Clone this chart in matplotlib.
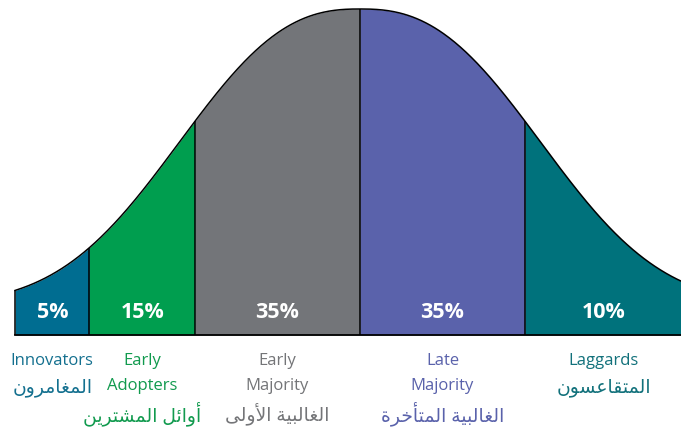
import numpy as np
import matplotlib.pyplot as plt

# adopter categories (left to right)
groups_en = ["Innovators", "Early\nAdopters", "Early\nMajority", "Late\nMajority", "Laggards"]
groups_ar = ["المغامرون", "أوائل المشترين", "الغالبية الأولى", "الغالبية المتأخرة", "المتقاعسون"]
shares = [5, 15, 35, 35, 10]
# cut points of the segments, in standard deviations from the mean
edges = [-2.09, -1.64, -1.0, 0.0, 1.0, 1.95]

fill_colors = ["#006d91", "#009e4f", "#737579", "#5a62ab", "#00727c"]
text_colors = ["#14708f", "#119a4e", "#747578", "#5a62ab", "#12717b"]

# --- tiny arabic shaper (matplotlib draws no contextual forms / rtl) ---
FORMS = {  # isolated, final, initial, medial
    'ا': ('\ufe8d', '\ufe8e', None, None),
    'أ': ('\ufe83', '\ufe84', None, None),
    'ب': ('\ufe8f', '\ufe90', '\ufe91', '\ufe92'),
    'ة': ('\ufe93', '\ufe94', None, None),
    'ت': ('\ufe95', '\ufe96', '\ufe97', '\ufe98'),
    'خ': ('\ufea5', '\ufea6', '\ufea7', '\ufea8'),
    'ر': ('\ufead', '\ufeae', None, None),
    'س': ('\ufeb1', '\ufeb2', '\ufeb3', '\ufeb4'),
    'ش': ('\ufeb5', '\ufeb6', '\ufeb7', '\ufeb8'),
    'ع': ('\ufec9', '\ufeca', '\ufecb', '\ufecc'),
    'غ': ('\ufecd', '\ufece', '\ufecf', '\ufed0'),
    'ق': ('\ufed5', '\ufed6', '\ufed7', '\ufed8'),
    'ل': ('\ufedd', '\ufede', '\ufedf', '\ufee0'),
    'م': ('\ufee1', '\ufee2', '\ufee3', '\ufee4'),
    'ن': ('\ufee5', '\ufee6', '\ufee7', '\ufee8'),
    'و': ('\ufeed', '\ufeee', None, None),
    'ي': ('\ufef1', '\ufef2', '\ufef3', '\ufef4'),
    'ى': ('\ufeef', '\ufef0', None, None),
    'ئ': ('\ufe89', '\ufe8a', '\ufe8b', '\ufe8c'),
}
LAM_ALEF = {'ا': ('\ufefb', '\ufefc'), 'أ': ('\ufef7', '\ufef8')}


def shape_ar(s):
    toks = []
    i = 0
    while i < len(s):
        if s[i] == 'ل' and i + 1 < len(s) and s[i + 1] in LAM_ALEF:
            toks.append(('LA', s[i + 1]))
            i += 2
        else:
            toks.append(s[i])
            i += 1

    def is_letter(t):
        return isinstance(t, tuple) or t in FORMS

    def joins_left(t):
        return (not isinstance(t, tuple)) and t in FORMS and FORMS[t][2] is not None

    out = []
    for k, t in enumerate(toks):
        prev = k > 0 and joins_left(toks[k - 1])
        if isinstance(t, tuple):
            iso, fin = LAM_ALEF[t[1]]
            out.append(fin if prev else iso)
            continue
        if t not in FORMS:
            out.append(t)
            continue
        nxt = joins_left(t) and k + 1 < len(toks) and is_letter(toks[k + 1])
        iso, fin, ini, med = FORMS[t]
        if prev and nxt:
            out.append(med)
        elif prev:
            out.append(fin)
        elif nxt:
            out.append(ini)
        else:
            out.append(iso)
    return ''.join(out[::-1])


def bell(x, floor=0.092, w=1.345, p=2.5):
    return floor + (1 - floor) * np.exp(-(np.abs(x) / w) ** p)


def py(px):
    # pixel row -> data y (baseline at row 335, peak at row 9)
    return (335 - px) / 326


fonts = ['Open Sans', 'DejaVu Sans']

fig = plt.figure(figsize=(6.81, 4.32), dpi=100)
ax = fig.add_axes([0, 0, 1, 1])
ax.set_xlim(-360 / 165, 321 / 165)
ax.set_ylim(py(432), py(0))
ax.axis('off')

for i in range(len(shares)):
    xs = np.linspace(edges[i], edges[i + 1], 200)
    ax.fill_between(xs, 0, bell(xs), color=fill_colors[i], lw=0)
    xc = (edges[i] + edges[i + 1]) / 2
    ax.text(xc, py(313), f"{shares[i]}%", color='white', fontsize=15.5,
            fontweight='bold', ha='center', va='center', family=fonts)
    lines = groups_en[i].split("\n")
    for k, ln in enumerate(lines):
        ax.text(xc, py(361 + 25.5 * k), ln, color=text_colors[i], fontsize=12,
                ha='center', va='center', family=fonts)
    ax.text(xc, py(361 + 25.5 * len(lines) + 1.5), shape_ar(groups_ar[i]),
            color=text_colors[i], fontsize=13.5, ha='center', va='center',
            family=fonts)

# outlines
xs = np.linspace(edges[0], edges[-1], 600)
ax.plot(xs, bell(xs), color='black', lw=1.1)
ax.vlines(edges[:-1], 0, bell(np.array(edges[:-1])), color='black', lw=1.1)
ax.plot([edges[0], edges[-1]], [0, 0], color='black', lw=1.3)

plt.savefig('out.png', dpi=100)
